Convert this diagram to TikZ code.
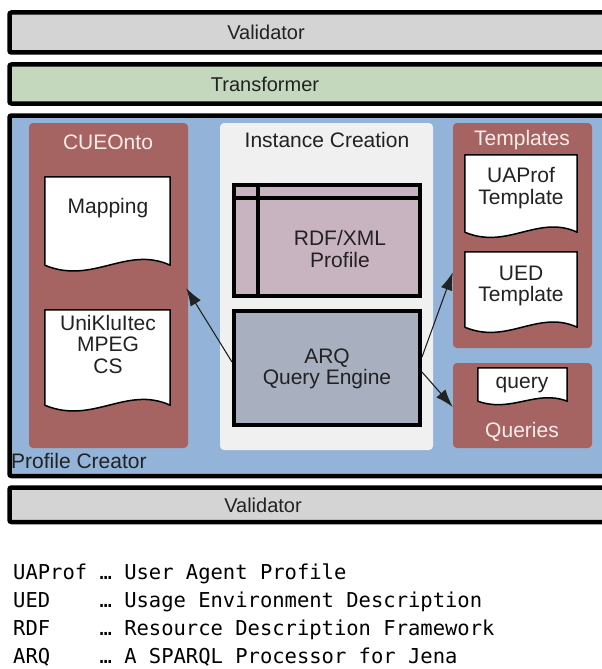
\documentclass[tikz,border=0pt]{standalone}
\usepackage{fontspec}
\setmainfont{Liberation Sans}
\newfontfamily\legendfont{DejaVu Sans Mono}
\usetikzlibrary{arrows.meta,calc}
\definecolor{valgray}{HTML}{D4D4D4}
\definecolor{transgreen}{HTML}{C4D8BE}
\definecolor{pcblue}{HTML}{93B3D8}
\definecolor{panelbrown}{HTML}{A56462}
\definecolor{titlepink}{HTML}{FBECEC}
\definecolor{instgray}{HTML}{F0F0F0}
\definecolor{rdfpink}{HTML}{C8B4C0}
\definecolor{arqgray}{HTML}{A8B0C0}
\definecolor{ink}{HTML}{222222}
\newcommand\docshape[2]{%
  \path[docline] (#1.north west) -- (#1.north east) -- (#1.south east)
    .. controls ($(#1.south east)!0.35!(#1.south west)+(0,-#2)$) and ($(#1.south east)!0.62!(#1.south west)+(0,#2)$) .. (#1.south west) -- cycle;}
\begin{document}
\begin{tikzpicture}[x=1pt,y=-1pt,
  bar/.style={draw=black, line width=4.5pt, rounded corners=2pt, inner sep=0pt},
  lbl/.style={font=\fontsize{21}{21.5}\selectfont, text=ink, align=center, inner sep=0pt},
  ptitle/.style={font=\fontsize{21}{22}\selectfont, text=titlepink, inner sep=0pt},
  panel/.style={fill=panelbrown, rounded corners=4pt, inner sep=0pt},
  docbox/.style={inner sep=0pt},
  docline/.style={draw=black, fill=white, line width=1.5pt, line join=round},
  engine/.style={draw=black, line width=4pt, inner sep=0pt},
  arr/.style={draw=ink, line width=1.1pt, -{Latex[length=18pt,width=12pt]}},
]
\useasboundingbox (0,0) rectangle (602,669);
\fill[white] (0,0) rectangle (602,669);

% bars
\node[bar, fill=valgray, minimum width=596.5pt, minimum height=40pt] (val1) at (307.75,32.5) {};
\node[lbl, font=\fontsize{20}{20}\selectfont] (val1t) at (266,32) {Validator};
\node[bar, fill=transgreen, minimum width=596.5pt, minimum height=39pt] (trans) at (307.75,84) {};
\node[lbl, font=\fontsize{20}{20}\selectfont] (transt) at (265,84) {Transformer};
\node[bar, fill=pcblue, minimum width=596.5pt, minimum height=360.5pt] (pc) at (307.75,295.75) {};
\node[bar, fill=valgray, minimum width=596.5pt, minimum height=34.5pt] (val2) at (307.75,504.75) {};
\node[lbl, font=\fontsize{20}{20}\selectfont] (val2t) at (263,505) {Validator};

% panels
\node[panel, minimum width=159pt, minimum height=325pt] (cue) at (108.5,285.5) {};
\node[panel, fill=instgray, minimum width=213pt, minimum height=327pt] (inst) at (326.5,286.5) {};
\node[panel, minimum width=139pt, minimum height=225pt] (tmpl) at (522.5,235.5) {};
\node[panel, minimum width=139pt, minimum height=85pt] (qry) at (522.5,405.5) {};

\node[ptitle] (cuet) at (108,142) {CUEOnto};
\node[lbl] (instt) at (327,140) {Instance Creation};
\node[ptitle] (tmplt) at (522,140) {Templates};
\node[ptitle] (qryt) at (522,432) {Queries};
\node[lbl, anchor=base west] (pct) at (11,468) {Profile Creator};

% documents
\node[docbox, minimum width=125pt, minimum height=88pt] (map) at (107.5,221) {};
\docshape{map}{20}
\node[lbl] (mapt) at (108,208) {Mapping};
\node[docbox, minimum width=125pt, minimum height=95pt] (uni) at (107.5,357.5) {};
\docshape{uni}{20}
\node[lbl] (unit) at (108,344) {UniKluItec\\MPEG\\CS};
\node[docbox, minimum width=112pt, minimum height=77pt] (uap) at (521,193.5) {};
\docshape{uap}{18}
\node[lbl] (uapt) at (521,188) {UAProf\\Template};
\node[docbox, minimum width=112pt, minimum height=75pt] (ued) at (521,289.5) {};
\docshape{ued}{18}
\node[lbl] (uedt) at (521,286) {UED\\Template};
\node[docbox, minimum width=89pt, minimum height=33pt] (qdoc) at (522.5,384.5) {};
\docshape{qdoc}{12}
\node[lbl] (qdoct) at (522,385) {query};

% engines
\node[engine, fill=rdfpink, minimum width=186pt, minimum height=111pt] (rdf) at (327,240.5) {};
\draw[line width=3.5pt] ($(rdf.north west)+(2,15)$) -- ($(rdf.north east)+(-2,15)$);
\draw[line width=3.5pt] ($(rdf.north west)+(26,2)$) -- ($(rdf.south west)+(26,-2)$);
\node[lbl] (rdft) at (340,249) {RDF/XML\\Profile};
\node[engine, fill=arqgray, minimum width=186pt, minimum height=114pt] (arq) at (327,368) {};
\node[lbl] (arqt) at (327,369) {ARQ\\Query Engine};

% arrows
\draw[arr] ($(arq.west)+(0,-6)$) -- ($(cue.east)+(-2,2.5)$);
\draw[arr] ($(arq.east)+(0,-11)$) -- ($(tmpl.south west)+(0,-76)$);
\draw[arr] ($(arq.east)+(0,4)$) -- ($(qry.west)+(0,1.5)$);

% legend
\node[anchor=north west, inner sep=0pt, font=\legendfont\fontsize{20.5}{28}\selectfont, text=black] (legend) at (13,560)
{\begin{tabular}{@{}l@{ }l@{}}
UAProf & … User Agent Profile\\
UED & … Usage Environment Description\\
RDF & … Resource Description Framework\\
ARQ & … A SPARQL Processor for Jena
\end{tabular}};
\end{tikzpicture}
\end{document}
